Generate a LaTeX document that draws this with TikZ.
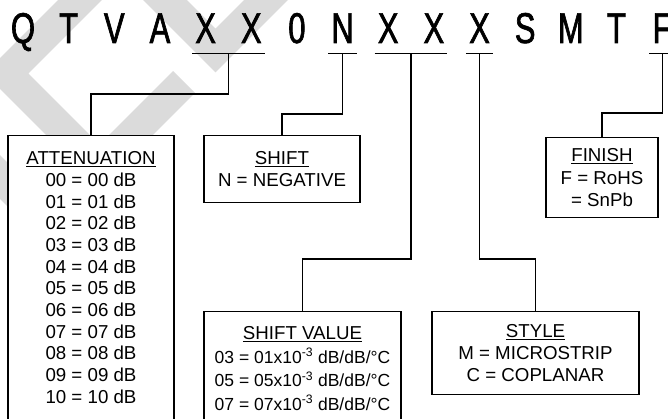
\documentclass[tikz,border=0pt]{standalone}
\usepackage{fontspec}
\setmainfont{Liberation Sans}
\newfontfamily\codefont[FakeStretch=0.72, FakeBold=1.5]{Liberation Sans}
\usetikzlibrary{positioning, calc}

\begin{document}
\begin{tikzpicture}[x=1pt, y=-1pt, node distance=45.65pt, on grid,
    code/.style={font=\codefont\fontsize{43}{43}\selectfont, text height=30pt, text depth=0pt, inner xsep=3pt, inner ysep=10pt},
    infobox/.style={draw, fill=white, line width=1.1pt, align=center, anchor=north, inner xsep=0pt, font=\fontsize{18.7}{21.7}\selectfont},
    link/.style={line width=1.1pt},
    uline/.style={line width=1.3pt},
    band/.style={line width=31pt, black!14, line join=miter}]
  \useasboundingbox (0,0) rectangle (668,419);
  \clip (0,0) rectangle (668,419);

  % watermark
  \draw[band] (95,-15) -- (6.5,73.5) -- (99.5,166.5) -- (184,82);
  \draw[band] (150,-15) -- (215.5,50.5) -- (281,-15);
  \draw[band] (-30,147) -- (60,237);

  % part number
  \node[code, anchor=base] (c1) at (23,43) {Q};
  \node[code] (c2) [right=of c1] {T};
  \node[code] (c3) [right=of c2] {V};
  \node[code] (c4) [right=of c3] {A};
  \node[code] (c5) [right=of c4] {X};
  \node[code] (c6) [right=of c5] {X};
  \node[code] (c7) [right=of c6] {0};
  \node[code] (c8) [right=of c7] {N};
  \node[code] (c9) [right=of c8] {X};
  \node[code] (c10) [right=of c9] {X};
  \node[code] (c11) [right=of c10] {X};
  \node[code] (c12) [right=of c11] {S};
  \node[code] (c13) [right=of c12] {M};
  \node[code] (c14) [right=of c13] {T};
  \node[code] (c15) [right=of c14] {F};

  \draw[uline] (c5.south west) -- (c6.south east);
  \draw[uline] (c8.south west) -- (c8.south east);
  \draw[uline] (c9.south west) -- (c10.south east);
  \draw[uline] (c11.south west) -- (c11.south east);
  \draw[uline] (c15.south west) -- (c15.south east);

  % fields
  \node[infobox, minimum width=166pt, inner ysep=16pt] (atten) at (91,135)
    {\underline{ATTENUATION}\\ 00 = 00 dB\\ 01 = 01 dB\\ 02 = 02 dB\\ 03 = 03 dB\\
     04 = 04 dB\\ 05 = 05 dB\\ 06 = 06 dB\\ 07 = 07 dB\\ 08 = 08 dB\\ 09 = 09 dB\\
     10 = 10 dB\rule[-40pt]{0pt}{0pt}};
  \node[infobox, minimum width=156pt, inner ysep=16pt] (shift) at (282,135)
    {\underline{SHIFT}\\ N = NEGATIVE};
  \node[infobox, minimum width=197pt, inner ysep=15pt, font=\fontsize{18.7}{23.5}\selectfont] (shval) at (302.5,311)
    {\underline{SHIFT VALUE}\\ \fontsize{17.5}{23.5}\selectfont 03 = 01x10\textsuperscript{-3} dB/dB/°C\\
     \fontsize{17.5}{23.5}\selectfont 05 = 05x10\textsuperscript{-3} dB/dB/°C\\
     \fontsize{17.5}{23.5}\selectfont 07 = 07x10\textsuperscript{-3} dB/dB/°C\rule[-40pt]{0pt}{0pt}};
  \node[infobox, minimum width=207pt, inner ysep=13pt] (stylebox) at (535.5,311)
    {\underline{STYLE}\\ M = MICROSTRIP\\ C = COPLANAR};
  \node[infobox, minimum width=112pt, inner ysep=11pt, font=\fontsize{18.7}{22.5}\selectfont] (finish) at (602,137)
    {\underline{FINISH}\\ F = RoHS\\ = SnPb};

  % connectors
  \coordinate (m1) at ($(c5.south)!0.5!(c6.south)$);
  \coordinate (m3) at ($(c9.south)!0.5!(c10.south)$);
  \coordinate (j1) at (0,94);
  \coordinate (j2) at (0,114);
  \coordinate (j3) at (0,259);
  \coordinate (j4) at (0,113);
  \draw[link] (m1) -- (m1 |- j1) -| (atten.north);
  \draw[link] (c8.south) -- (c8.south |- j2) -| (shift.north);
  \draw[link] (m3) -- (m3 |- j3) -| (shval.north);
  \draw[link] (c11.south) -- (c11.south |- j3) -| (stylebox.north);
  \draw[link] (c15.south) -- (c15.south |- j4) -| (finish.north);
\end{tikzpicture}
\end{document}
